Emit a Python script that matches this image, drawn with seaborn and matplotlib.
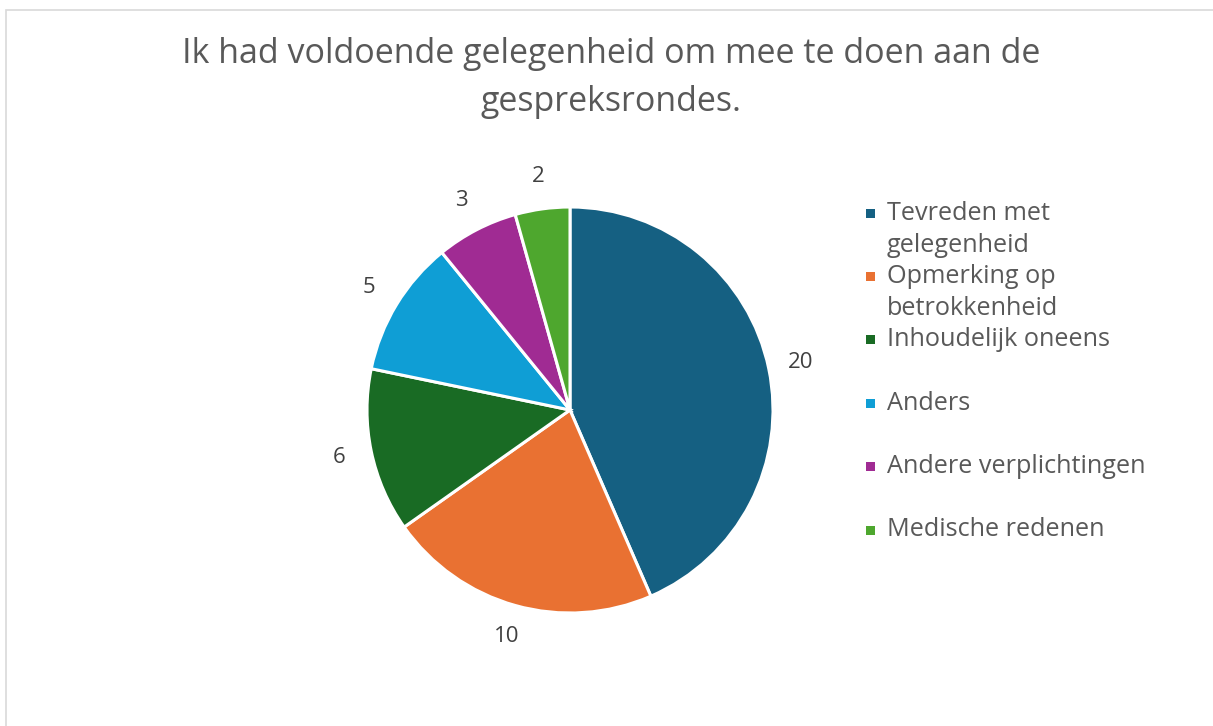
import matplotlib.pyplot as plt
import seaborn as sns
from matplotlib.patches import Rectangle

categories = [
    "Tevreden met\ngelegenheid",
    "Opmerking op\nbetrokkenheid",
    "Inhoudelijk oneens",
    "Anders",
    "Andere verplichtingen",
    "Medische redenen",
]
counts = [20, 10, 6, 5, 3, 2]
colors = ["#156082", "#E97132", "#196B24", "#0F9ED5", "#A02B93", "#4EA72E"]
title = "Ik had voldoende gelegenheid om mee te doen aan de\ngespreksrondes."

sns.set_theme(style="white")
plt.rcParams["font.family"] = ["Open Sans", "DejaVu Sans"]

W, H = 1213, 726
fig = plt.figure(figsize=(W / 100, H / 100), dpi=100)

# outer chart frame (only left and top edges visible in the screenshot)
fig.add_artist(Rectangle((6 / W, -0.05), 1.2, 1.05 - 10 / H, transform=fig.transFigure,
                         fill=False, edgecolor="#D9D9D9", linewidth=1.2))

# pie axes: centre at (570, 410) px, radius ~203 px
r_px = 203
side = 2.5 * r_px
ax = fig.add_axes([(570 - side / 2) / W, (H - 410 - side / 2) / H, side / W, side / H])
ax.pie(
    counts,
    colors=colors,
    startangle=90,
    counterclock=False,
    labels=[str(c) for c in counts],
    labeldistance=1.16,
    wedgeprops=dict(edgecolor="white", linewidth=2.2),
    textprops=dict(color="#404040", fontsize=16),
)
for t in ax.texts:
    t.set_ha("center")
    t.set_va("center")

fig.text(611 / W, 1 - 78 / H, title, ha="center", va="center",
         fontsize=24.5, color="#595959", linespacing=1.52)

# legend built by hand, Excel style
y0, step, line_h = 213, 63.4, 32
for i, (label, col) in enumerate(zip(categories, colors)):
    y = y0 + i * step
    fig.add_artist(Rectangle((866 / W, 1 - (y + 4.5) / H), 9 / W, 9 / H,
                             transform=fig.transFigure, facecolor=col, edgecolor="none"))
    for j, line in enumerate(label.split("\n")):
        fig.text(887 / W, 1 - (y + j * line_h) / H, line, ha="left", va="center",
                 fontsize=18.2, color="#595959")

fig.savefig("out.png", dpi=100)
